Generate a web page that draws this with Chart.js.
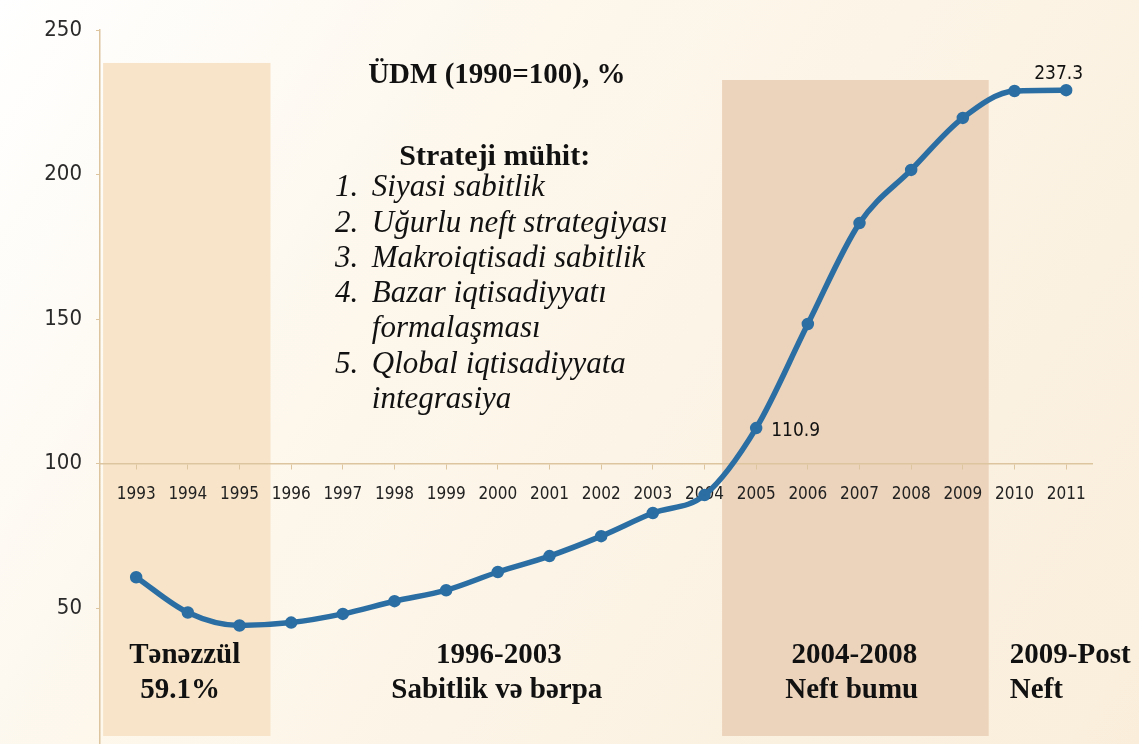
<!DOCTYPE html>
<html>
<head>
<meta charset="utf-8">
<script src="https://cdn.jsdelivr.net/npm/chart.js@4.4.1/dist/chart.umd.min.js"></script>
<style>
  html, body { margin: 0; padding: 0; background: #fbf3e4; }
  #wrap { width: 1139px; height: 744px; position: relative; }
</style>
</head>
<body>
<div id="wrap"><canvas id="myChart"></canvas></div>
<script>
// ÜDM indeksi (1990=100), qrafikdən oxunmuş qiymətlər
const years = [1993, 1994, 1995, 1996, 1997, 1998, 1999, 2000, 2001, 2002, 2003, 2004, 2005, 2006, 2007, 2008, 2009, 2010, 2011];
const gdpIndex = [60.7, 48.5, 44, 45, 48, 52.4, 56.2, 62.5, 68, 74.9, 82.9, 89.1, 112.3, 148.3, 183.2, 201.6, 219.6, 228.9, 229.2];
const yTicks = [50, 100, 150, 200, 250];

const chartTitle = 'ÜDM (1990=100), %';
const strategyTitle = 'Strateji mühit:';
const strategyItems = [
    ['1.', 'Siyasi sabitlik'],
    ['2.', 'Uğurlu neft strategiyası'],
    ['3.', 'Makroiqtisadi sabitlik'],
    ['4.', 'Bazar iqtisadiyyatı'],
    ['', 'formalaşması'],
    ['5.', 'Qlobal iqtisadiyyata'],
    ['', 'integrasiya']
];
const periodLabels = [
    ['Tənəzzül', '59.1%'],
    ['1996-2003', 'Sabitlik və bərpa'],
    ['2004-2008', 'Neft bumu'],
    ['2009-Post', 'Neft']
];
const valueLabels = [
    { year: 2005, text: '110.9' },
    { year: 2011, text: '237.3' }
];
// dövr zolaqları: [başlanğıc il, son il, yuxarı sərhəd]
const periodBands = [
    [1992.36, 1995.6, 238.6],
    [2004.34, 2009.5, 232.7]
];

const serif = '"Liberation Serif", "Times New Roman", serif';
const narrow = '"DejaVu Sans Condensed", "Liberation Sans Narrow", sans-serif';
const lineColor = '#2a6ea3';
const axisColor = '#dcc59f';

function putText(ctx, text, x, y, font, align) {
    ctx.font = font;
    ctx.textAlign = align || 'left';
    ctx.textBaseline = 'middle';
    ctx.fillStyle = '#111';
    ctx.fillText(text, x, y);
}

const decorPlugin = {
    id: 'decor',
    beforeDraw(chart) {
        const { ctx, scales: { x, y }, chartArea } = chart;
        ctx.save();
        const g = ctx.createLinearGradient(0, 0, chart.width, chart.height);
        g.addColorStop(0, '#ffffff');
        g.addColorStop(0.35, '#fdf7ec');
        g.addColorStop(1, '#faeedb');
        ctx.fillStyle = g;
        ctx.fillRect(0, 0, chart.width, chart.height);

        const bandColors = ['#f8e5c9', '#ecd3bb'];
        periodBands.forEach((b, i) => {
            const x0 = x.getPixelForValue(b[0]);
            const x1 = x.getPixelForValue(b[1]);
            const y0 = y.getPixelForValue(b[2]);
            ctx.fillStyle = bandColors[i];
            ctx.fillRect(x0, y0, x1 - x0, chartArea.bottom - 8 - y0);
        });
        ctx.restore();
    },
    afterDatasetsDraw(chart) {
        const { ctx, scales: { x, y } } = chart;
        ctx.save();
        const px = v => x.getPixelForValue(v);
        const py = v => y.getPixelForValue(v);

        putText(ctx, chartTitle, px(1999.98), py(234.4), 'bold 29px ' + serif, 'center');
        putText(ctx, strategyTitle, px(1999.94), py(206.1), 'bold 30px ' + serif, 'center');

        strategyItems.forEach((item, i) => {
            const yy = py(195.3) + i * 35.3;
            if (item[0]) putText(ctx, item[0], px(1996.85), yy, 'italic 31px ' + serif, 'left');
            putText(ctx, item[1], px(1997.56), yy, 'italic 31px ' + serif, 'left');
        });

        const bold = 'bold 29px ' + serif;
        putText(ctx, periodLabels[0][0], px(1993.94), py(33.7), bold, 'center');
        putText(ctx, periodLabels[0][1], px(1993.85), py(21.6), bold, 'center');
        putText(ctx, periodLabels[1][0], px(2000.02), py(33.7), bold, 'center');
        putText(ctx, periodLabels[1][1], px(1999.98), py(21.6), bold, 'center');
        putText(ctx, periodLabels[2][0], px(2006.9), py(33.7), bold, 'center');
        putText(ctx, periodLabels[2][1], px(2006.85), py(21.6), bold, 'center');
        putText(ctx, periodLabels[3][0], px(2009.91), py(33.7), bold, 'left');
        putText(ctx, periodLabels[3][1], px(2009.91), py(21.6), bold, 'left');

        const meta = chart.getDatasetMeta(0);
        valueLabels.forEach(l => {
            const pt = meta.data[years.indexOf(l.year)];
            if (l.year === 2011) putText(ctx, l.text, pt.x - 32, pt.y - 16, '19px ' + narrow, 'left');
            else putText(ctx, l.text, pt.x + 15, pt.y + 3, '19px ' + narrow, 'left');
        });
        ctx.restore();
    }
};

const ctx = document.getElementById('myChart').getContext('2d');
new Chart(ctx, {
    type: 'line',
    data: {
        datasets: [{
            data: years.map((yr, i) => ({ x: yr, y: gdpIndex[i] })),
            borderColor: lineColor,
            backgroundColor: lineColor,
            borderWidth: 5.5,
            pointRadius: 3.5,
            pointHoverRadius: 3.5,
            cubicInterpolationMode: 'monotone',
            fill: false
        }]
    },
    options: {
        responsive: true,
        maintainAspectRatio: false,
        animation: false,
        layout: { autoPadding: false, padding: { top: 30, right: 47, bottom: 0, left: 0 } },
        plugins: { legend: { display: false }, tooltip: { enabled: false } },
        scales: {
            x: {
                type: 'linear',
                position: { y: 100 },
                min: 1992.3,
                max: 2011.5,
                afterBuildTicks: s => { s.ticks = years.map(v => ({ value: v })); },
                afterFit: s => { s.height = 0; },
                grid: { drawOnChartArea: false, tickLength: 5, color: axisColor },
                border: { color: axisColor, width: 1.5 },
                ticks: {
                    padding: 16,
                    maxRotation: 0,
                    autoSkip: false,
                    color: '#222',
                    font: { family: narrow, size: 17 },
                    callback: v => String(v)
                }
            },
            y: {
                min: 3,
                max: 250,
                afterBuildTicks: s => { s.ticks = yTicks.map(v => ({ value: v })); },
                afterFit: s => { s.width = 100; s.paddingBottom = 0; },
                grid: { drawOnChartArea: false, tickLength: 4, color: axisColor },
                border: { color: axisColor, width: 1.5 },
                ticks: {
                    padding: 14,
                    color: '#2a2a2a',
                    font: { family: narrow, size: 22 },
                    callback: v => String(v)
                }
            }
        }
    },
    plugins: [decorPlugin]
});
</script>
</body>
</html>
